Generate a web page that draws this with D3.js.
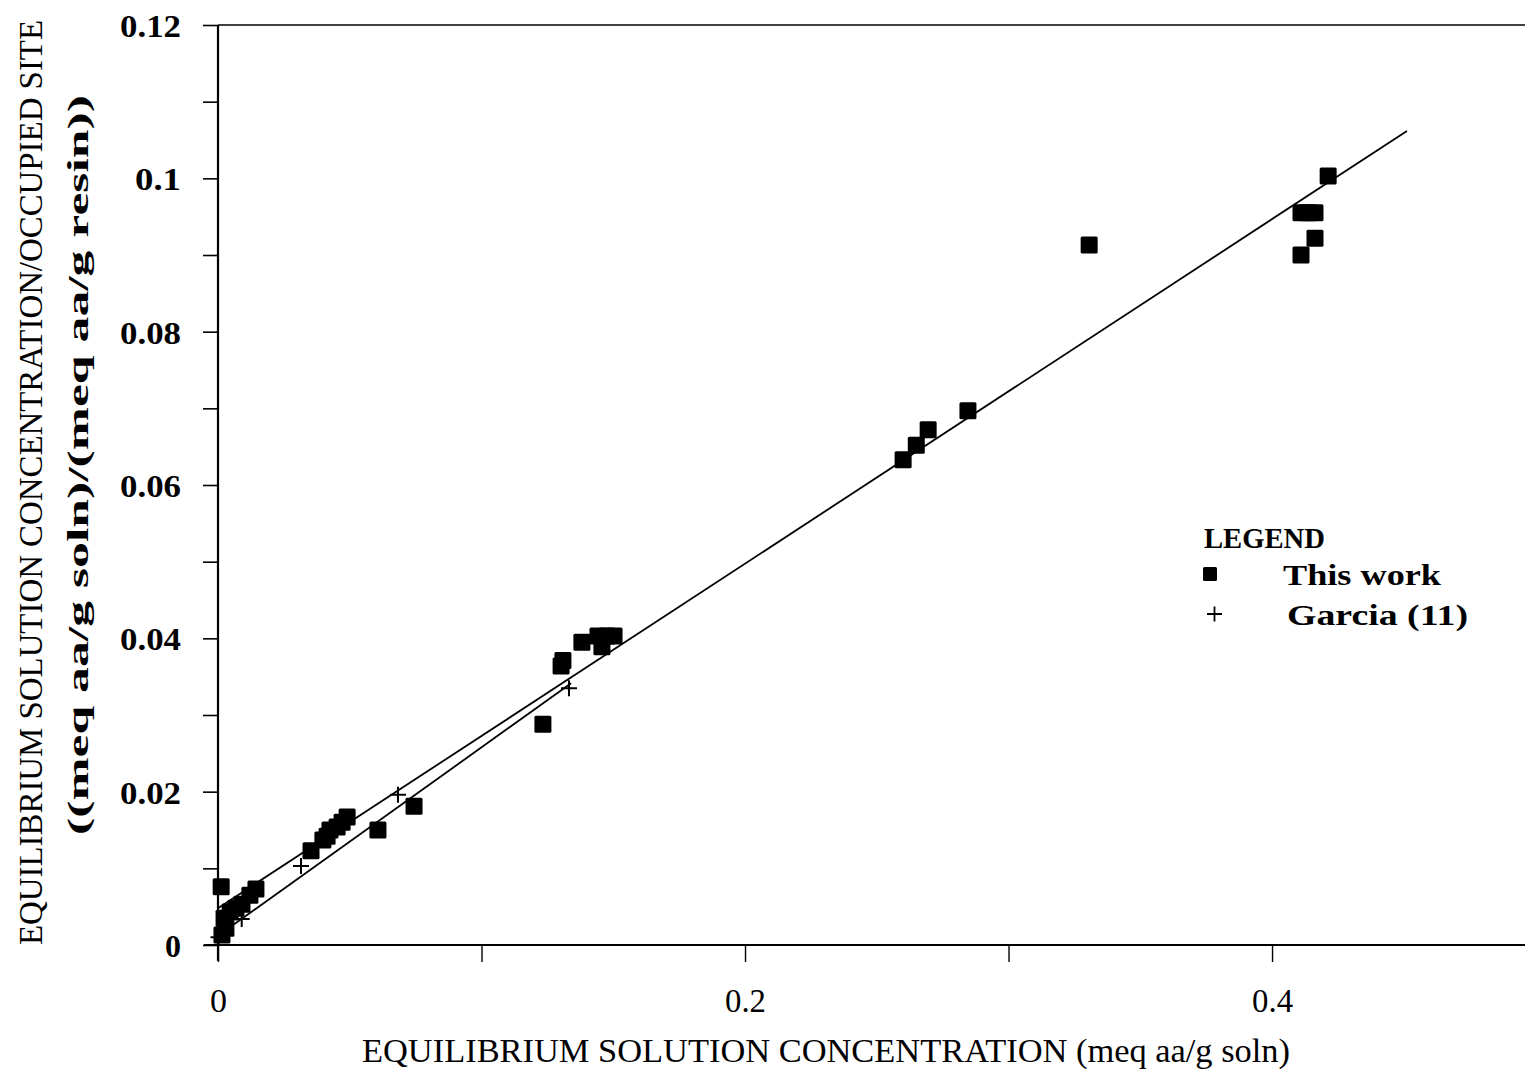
<!DOCTYPE html>
<html>
<head>
<meta charset="utf-8">
<script src="https://cdn.jsdelivr.net/npm/d3@7/dist/d3.min.js"></script>
<style>
  html, body { margin: 0; padding: 0; background: #fff; }
  svg { display: block; }
  text { font-family: "Liberation Serif", "DejaVu Serif", serif; fill: #000; }
</style>
</head>
<body>
<svg id="chart" width="1525" height="1069"></svg>
<script>
// Equilibrium solution concentration (meq aa/g soln) and the ratio to occupied site
const thisWorkX = [0.0012, 0.0015, 0.0030, 0.0023, 0.0046, 0.0068, 0.0091, 0.0121, 0.0144,
  0.0353, 0.0398, 0.0414, 0.0425, 0.0452, 0.0471, 0.0490, 0.0607, 0.0744,
  0.1233, 0.1302, 0.1309, 0.1381, 0.1442, 0.1457, 0.1476, 0.1503,
  0.2600, 0.2650, 0.2695, 0.2846, 0.3306,
  0.4110, 0.4137, 0.4163, 0.4163, 0.4110, 0.4213];
const thisWorkY = [0.0076, 0.0013, 0.0022, 0.0035, 0.0043, 0.0048, 0.0053, 0.0065, 0.0073,
  0.0123, 0.0137, 0.0142, 0.0150, 0.0154, 0.0160, 0.0167, 0.0150, 0.0181,
  0.0288, 0.0364, 0.0371, 0.0395, 0.0403, 0.0389, 0.0403, 0.0403,
  0.0633, 0.0652, 0.0672, 0.0697, 0.0913,
  0.0955, 0.0955, 0.0955, 0.0922, 0.0900, 0.1003];

const garciaX = [0.0002, 0.0090, 0.0315, 0.0683, 0.1332];
const garciaY = [0.0010, 0.0034, 0.0103, 0.0196, 0.0335];

// Least-squares lines: [this work, Garcia]
const fitIntercepts = [0.0048, 0.0012];
const fitSlopes = [0.2247, 0.2458];
const fitXEnd = [0.4512, 0.134];

const yTickValues = [0, 0.02, 0.04, 0.06, 0.08, 0.1, 0.12];
const yTickLabels = ["0", "0.02", "0.04", "0.06", "0.08", "0.1", "0.12"];
const yMinorTicks = [0.01, 0.03, 0.05, 0.07, 0.09, 0.11];
const xTickValues = [0, 0.1, 0.2, 0.3, 0.4];
const xTickLabels = ["0", "", "0.2", "", "0.4"];

const legendLabels = ["This work", "Garcia (11)"];

const svg = d3.select("#chart");
const x = d3.scaleLinear().domain([0, 0.496]).range([218, 1525]);
const y = d3.scaleLinear().domain([0, 0.12]).range([945, 25]);

// Frame: top border
svg.append("line")
  .attr("x1", x(0)).attr("x2", 1525)
  .attr("y1", y(0.12)).attr("y2", y(0.12))
  .attr("stroke", "#000").attr("stroke-width", 1.6);

// Y axis
const yAxis = d3.axisLeft(y)
  .tickValues(yTickValues.concat(yMinorTicks))
  .tickSize(15)
  .tickFormat(d => {
    const i = yTickValues.indexOf(d);
    return i >= 0 ? yTickLabels[i] : "";
  });
const gy = svg.append("g").attr("transform", `translate(${x(0)},0)`).call(yAxis);
gy.select(".domain").attr("stroke-width", 2.2).attr("d", `M0,${y(0.12)}V${y(0) + 16}`);
gy.selectAll(".tick line").attr("stroke-width", 1.6);
gy.selectAll(".tick text")
  .attr("x", -37)
  .attr("dy", "0.36em")
  .style("font-family", '"Liberation Serif", serif')
  .style("font-weight", "bold")
  .style("font-size", "32px")
  .each(function () {
    const el = d3.select(this);
    const n = el.text().length;
    if (n > 1) el.attr("textLength", n === 4 ? 61 : 46).attr("lengthAdjust", "spacingAndGlyphs");
  });

// X axis
const xAxis = d3.axisBottom(x)
  .tickValues(xTickValues)
  .tickSize(17)
  .tickFormat((d, i) => xTickLabels[i]);
const gx = svg.append("g").attr("transform", `translate(0,${y(0)})`).call(xAxis);
gx.select(".domain").attr("stroke-width", 2).attr("d", `M${x(0) - 14},0H1525`);
gx.selectAll(".tick line").attr("stroke-width", 1.4);
gx.selectAll(".tick text")
  .attr("y", 55)
  .attr("dy", "0.36em")
  .style("font-family", '"Liberation Serif", serif')
  .style("font-size", "34px")
  .each(function () {
    const el = d3.select(this);
    if (el.text().length > 1) el.attr("textLength", 41).attr("lengthAdjust", "spacingAndGlyphs");
  });

// Fitted lines
const lineGen = d3.line().x(d => x(d[0])).y(d => y(d[1]));
fitIntercepts.forEach((b, i) => {
  const pts = [[0, b], [fitXEnd[i], b + fitSlopes[i] * fitXEnd[i]]];
  svg.append("path")
    .attr("d", lineGen(pts))
    .attr("fill", "none")
    .attr("stroke", "#000")
    .attr("stroke-width", 1.8);
});

// Garcia points (+)
const plusSize = 8;
svg.append("g").selectAll("path")
  .data(garciaX.map((d, i) => [d, garciaY[i]]))
  .join("path")
  .attr("d", d => `M${x(d[0]) - plusSize},${y(d[1])}H${x(d[0]) + plusSize}M${x(d[0])},${y(d[1]) - plusSize}V${y(d[1]) + plusSize}`)
  .attr("stroke", "#000")
  .attr("stroke-width", 2);

// This work points (filled squares)
const sq = 17;
svg.append("g").selectAll("rect")
  .data(thisWorkX.map((d, i) => [d, thisWorkY[i]]))
  .join("rect")
  .attr("x", d => x(d[0]) - sq / 2)
  .attr("y", d => y(d[1]) - sq / 2)
  .attr("width", sq)
  .attr("height", sq)
  .attr("rx", 1.5)
  .attr("fill", "#000");

// Legend
const lg = svg.append("g");
lg.append("text").attr("x", 1204).attr("y", 548)
  .attr("textLength", 121).attr("lengthAdjust", "spacingAndGlyphs")
  .style("font-weight", "bold").style("font-size", "29px").text("LEGEND");
lg.append("rect").attr("x", 1203).attr("y", 567).attr("width", 14).attr("height", 14)
  .attr("rx", 1.5).attr("fill", "#000");
lg.append("text").attr("x", 1283).attr("y", 585)
  .attr("textLength", 158).attr("lengthAdjust", "spacingAndGlyphs")
  .style("font-weight", "bold").style("font-size", "29px").text(legendLabels[0]);
lg.append("path")
  .attr("d", "M1207,614H1222M1214.5,606.5V621.5")
  .attr("stroke", "#000").attr("stroke-width", 1.8);
lg.append("text").attr("x", 1287).attr("y", 625)
  .attr("textLength", 181).attr("lengthAdjust", "spacingAndGlyphs")
  .style("font-weight", "bold").style("font-size", "29px").text(legendLabels[1]);

// Axis titles
svg.append("text")
  .attr("x", 362).attr("y", 1062)
  .attr("textLength", 928).attr("lengthAdjust", "spacingAndGlyphs")
  .style("font-size", "33px")
  .text("EQUILIBRIUM SOLUTION CONCENTRATION (meq aa/g soln)");

svg.append("text")
  .attr("transform", "translate(42,945) rotate(-90)")
  .attr("textLength", 925).attr("lengthAdjust", "spacingAndGlyphs")
  .style("font-size", "33px")
  .text("EQUILIBRIUM SOLUTION CONCENTRATION/OCCUPIED SITE");

svg.append("text")
  .attr("transform", "translate(88,835) rotate(-90)")
  .attr("textLength", 740).attr("lengthAdjust", "spacingAndGlyphs")
  .style("font-weight", "bold")
  .style("font-size", "29px")
  .text("((meq aa/g soln)/(meq aa/g resin))");
</script>
</body>
</html>
